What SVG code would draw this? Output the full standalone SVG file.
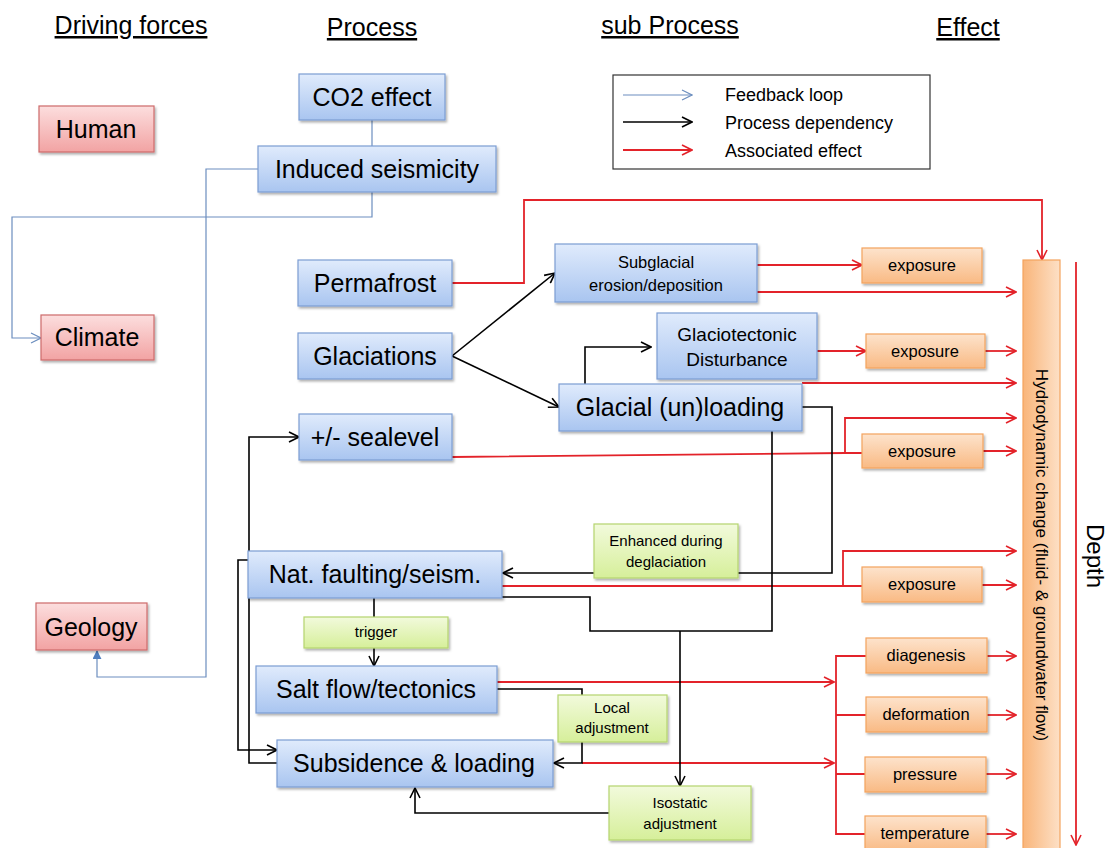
<svg xmlns="http://www.w3.org/2000/svg" width="1110" height="848" viewBox="0 0 1110 848">
<defs>
<linearGradient id="gBlue" x1="0" y1="0" x2="0" y2="1"><stop offset="0" stop-color="#e0ebfc"/><stop offset="1" stop-color="#a9c5f0"/></linearGradient>
<linearGradient id="gPink" x1="0" y1="0" x2="0" y2="1"><stop offset="0" stop-color="#fcdede"/><stop offset="1" stop-color="#f2a3a3"/></linearGradient>
<linearGradient id="gOrange" x1="0" y1="0" x2="0" y2="1"><stop offset="0" stop-color="#fde3cc"/><stop offset="1" stop-color="#f9ba84"/></linearGradient>
<linearGradient id="gOrangeH" x1="0" y1="0" x2="1" y2="0"><stop offset="0" stop-color="#f9b57a"/><stop offset="1" stop-color="#fde0c6"/></linearGradient>
<linearGradient id="gGreen" x1="0" y1="0" x2="0" y2="1"><stop offset="0" stop-color="#f2fadc"/><stop offset="1" stop-color="#d6ef9a"/></linearGradient>
<filter id="sh" x="-10%" y="-10%" width="130%" height="140%"><feDropShadow dx="1.5" dy="2" stdDeviation="1.2" flood-color="#000" flood-opacity="0.3"/></filter>
<marker id="aR" viewBox="0 0 12 12" refX="11" refY="6" markerWidth="12" markerHeight="12" markerUnits="userSpaceOnUse" orient="auto"><path d="M1,1 L11,6 L1,11" fill="none" stroke="#e3232a" stroke-width="1.6"/></marker>
<marker id="aK" viewBox="0 0 12 12" refX="11" refY="6" markerWidth="12" markerHeight="12" markerUnits="userSpaceOnUse" orient="auto"><path d="M1,1 L11,6 L1,11" fill="none" stroke="#000" stroke-width="1.6"/></marker>
<marker id="aB" viewBox="0 0 12 12" refX="11" refY="6" markerWidth="12" markerHeight="12" markerUnits="userSpaceOnUse" orient="auto"><path d="M1,1 L11,6 L1,11" fill="none" stroke="#6c8ebf" stroke-width="1.2"/></marker>
<marker id="aBf" viewBox="0 0 10 10" refX="9" refY="5" markerWidth="9" markerHeight="9" markerUnits="userSpaceOnUse" orient="auto"><path d="M0,0 L10,5 L0,10 Z" fill="#4f7fc0"/></marker>
</defs>
<style>
text{font-family:"Liberation Sans",Arial,sans-serif;fill:#000;text-anchor:middle}
.hdr{font-size:25px;text-decoration:underline}
.big{font-size:25px}
.mid{font-size:19px}
.sm{font-size:16.5px}
.xs{font-size:15px}
.lg{font-size:18px;text-anchor:start}
.blue{fill:url(#gBlue);stroke:#7c9dd2;stroke-width:1.2;filter:url(#sh)}
.pink{fill:url(#gPink);stroke:#cd6b6b;stroke-width:1.2;filter:url(#sh)}
.org{fill:url(#gOrange);stroke:#f3a35e;stroke-width:1.2;filter:url(#sh)}
.grn{fill:url(#gGreen);stroke:#b5d46e;stroke-width:1.2;filter:url(#sh)}
.cR{fill:none;stroke:#e3232a;stroke-width:1.8}
.cK{fill:none;stroke:#000;stroke-width:1.6}
.cB{fill:none;stroke:#6c8ebf;stroke-width:1.2}
</style>
<rect width="1110" height="848" fill="#fff"/>

<g id="headers">
<text class="hdr" x="131" y="34">Driving forces</text>
<text class="hdr" x="372" y="36">Process</text>
<text class="hdr" x="670" y="34">sub Process</text>
<text class="hdr" x="968" y="36">Effect</text>
</g>

<g id="legend">
<rect x="613" y="75" width="317" height="94" fill="#fff" stroke="#333" stroke-width="1.2"/>
<path class="cB" d="M623,95 H692" marker-end="url(#aB)"/>
<path class="cK" d="M623,122 H692" marker-end="url(#aK)"/>
<path class="cR" d="M623,150 H692" marker-end="url(#aR)"/>
<text class="lg" x="725" y="101">Feedback loop</text>
<text class="lg" x="725" y="129">Process dependency</text>
<text class="lg" x="725" y="157">Associated effect</text>
</g>

<g id="connectors">
<path class="cB" d="M372,120 V146"/>
<path class="cB" d="M372,192 V217 H12 V338 H41" marker-end="url(#aB)"/>
<path class="cB" d="M258,169 H206 V677 H97 V651" marker-end="url(#aBf)"/>
<path class="cR" d="M452,283 H524 V200 H1042 V260" marker-end="url(#aR)"/>
<path class="cR" d="M757,265 H862" marker-end="url(#aR)"/>
<path class="cR" d="M757,292 H1016" marker-end="url(#aR)"/>
<path class="cR" d="M817,351 H866" marker-end="url(#aR)"/>
<path class="cR" d="M985,351 H1016" marker-end="url(#aR)"/>
<path class="cR" d="M802,383 H1016" marker-end="url(#aR)"/>
<path class="cR" d="M452,457 L845,453 H862"/>
<path class="cR" d="M845,453 V418 H1016" marker-end="url(#aR)"/>
<path class="cR" d="M983,451 H1016" marker-end="url(#aR)"/>
<path class="cR" d="M502,586 H862"/>
<path class="cR" d="M843,586 V551 H1016" marker-end="url(#aR)"/>
<path class="cR" d="M982,585 H1016" marker-end="url(#aR)"/>
<path class="cR" d="M497,682 H834" marker-end="url(#aR)"/>
<path class="cR" d="M582,763 H834" marker-end="url(#aR)"/>
<path class="cR" d="M866,656 H836 V834 H866 M836,715 H866 M836,774 H865"/>
<path class="cR" d="M987,656 H1016" marker-end="url(#aR)"/>
<path class="cR" d="M987,715 H1016" marker-end="url(#aR)"/>
<path class="cR" d="M986,774 H1016" marker-end="url(#aR)"/>
<path class="cR" d="M986,834 H1016" marker-end="url(#aR)"/>
<path class="cR" d="M1076,262 V845" marker-end="url(#aR)"/>
<path class="cK" d="M452,356 L555,273" marker-end="url(#aK)"/>
<path class="cK" d="M452,356 L559,407" marker-end="url(#aK)"/>
<path class="cK" d="M585,384 V347 H651" marker-end="url(#aK)"/>
<path class="cK" d="M802,407 H832 V573 H503" marker-end="url(#aK)"/>
<path class="cK" d="M502,597 H590 V631 H772 V431"/>
<path class="cK" d="M680,631 V786" marker-end="url(#aK)"/>
<path class="cK" d="M609,813 H415 V788" marker-end="url(#aK)"/>
<path class="cK" d="M497,689 H582 V695"/>
<path class="cK" d="M582,742 V763 H554" marker-end="url(#aK)"/>
<path class="cK" d="M374,598 V617"/>
<path class="cK" d="M374,648 V666" marker-end="url(#aK)"/>
<path class="cK" d="M249,551 V437 H299" marker-end="url(#aK)"/>
<path class="cK" d="M248,560 H238 V750 H277" marker-end="url(#aK)"/>
<path class="cK" d="M277,763 H249 V598"/>
</g>

<g id="human"><rect class="pink" x="39" y="106" width="115" height="46"/><text class="big" x="96" y="138">Human</text></g>
<g id="climate"><rect class="pink" x="41" y="315" width="113" height="45"/><text class="big" x="97" y="346">Climate</text></g>
<g id="geology"><rect class="pink" x="36" y="603" width="111" height="47"/><text class="big" x="91" y="636">Geology</text></g>

<g id="co2"><rect class="blue" x="299" y="74" width="146" height="46"/><text class="big" x="372" y="106">CO2 effect</text></g>
<g id="induced"><rect class="blue" x="258" y="146" width="238" height="46"/><text class="big" x="377" y="178">Induced seismicity</text></g>
<g id="permafrost"><rect class="blue" x="298" y="260" width="154" height="46"/><text class="big" x="375" y="292">Permafrost</text></g>
<g id="glaciations"><rect class="blue" x="298" y="333" width="154" height="46"/><text class="big" x="375" y="365">Glaciations</text></g>
<g id="sealevel"><rect class="blue" x="299" y="414" width="153" height="46"/><text class="big" x="375" y="446">+/- sealevel</text></g>
<g id="natfault"><rect class="blue" x="248" y="551" width="254" height="47"/><text class="big" x="375" y="583">Nat. faulting/seism.</text></g>
<g id="saltflow"><rect class="blue" x="256" y="666" width="241" height="47"/><text class="big" x="376" y="698">Salt flow/tectonics</text></g>
<g id="subsidence"><rect class="blue" x="277" y="740" width="276" height="47"/><text class="big" x="414" y="772">Subsidence &amp; loading</text></g>

<g id="subglacial"><rect class="blue" x="555" y="244" width="202" height="58"/><text class="sm" x="656" y="268">Subglacial</text><text class="sm" x="656" y="291">erosion/deposition</text></g>
<g id="glaciotectonic"><rect class="blue" x="657" y="313" width="160" height="66"/><text class="mid" x="737" y="341">Glaciotectonic</text><text class="mid" x="737" y="366">Disturbance</text></g>
<g id="glacialunloading"><rect class="blue" x="559" y="384" width="243" height="47"/><text class="big" x="680" y="416">Glacial (un)loading</text></g>

<g id="trigger"><rect class="grn" x="304" y="617" width="144" height="31"/><text class="xs" x="376" y="637">trigger</text></g>
<g id="enhanced"><rect class="grn" x="594" y="524" width="144" height="54"/><text class="xs" x="666" y="546">Enhanced during</text><text class="xs" x="666" y="567">deglaciation</text></g>
<g id="localadj"><rect class="grn" x="558" y="695" width="109" height="47"/><text class="xs" x="612" y="713">Local</text><text class="xs" x="612" y="733">adjustment</text></g>
<g id="isostatic"><rect class="grn" x="609" y="786" width="142" height="54"/><text class="xs" x="680" y="808">Isostatic</text><text class="xs" x="680" y="829">adjustment</text></g>

<g id="exposure1"><rect class="org" x="862" y="248" width="120" height="35"/><text class="sm" x="922" y="271">exposure</text></g>
<g id="exposure2"><rect class="org" x="866" y="334" width="119" height="34"/><text class="sm" x="925" y="357">exposure</text></g>
<g id="exposure3"><rect class="org" x="862" y="434" width="121" height="34"/><text class="sm" x="922" y="457">exposure</text></g>
<g id="exposure4"><rect class="org" x="862" y="567" width="120" height="35"/><text class="sm" x="922" y="590">exposure</text></g>
<g id="diagenesis"><rect class="org" x="866" y="638" width="121" height="35"/><text class="sm" x="926" y="661">diagenesis</text></g>
<g id="deformation"><rect class="org" x="866" y="697" width="121" height="35"/><text class="sm" x="926" y="720">deformation</text></g>
<g id="pressure"><rect class="org" x="865" y="757" width="121" height="35"/><text class="sm" x="925" y="780">pressure</text></g>
<g id="temperature"><rect class="org" x="865" y="816" width="121" height="36"/><text class="sm" x="925" y="839">temperature</text></g>

<g id="hydrodynamic"><rect x="1023" y="260" width="37" height="600" fill="url(#gOrangeH)" stroke="#f3a35e" stroke-width="1.2"/><text x="0" y="0" font-size="17" transform="translate(1036,555) rotate(90)">Hydrodynamic change (fluid- &amp; groundwater flow)</text></g>

<g id="depth"><text x="0" y="0" font-size="24" transform="translate(1087,556) rotate(90)">Depth</text></g>
</svg>
